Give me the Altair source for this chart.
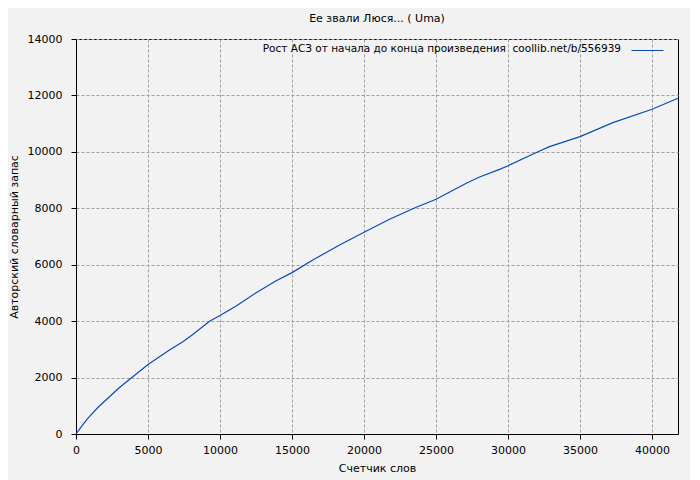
import altair as alt
import pandas as pd

# Data
words = [0, 400, 820, 1500, 2210, 3000, 3945, 5000, 6490, 7417, 8110, 9271,
         10000, 11125, 12510, 13900, 15000, 16445, 18300, 20000, 21770, 23625,
         25000, 27100, 28020, 29410, 30000, 32190, 32880, 35000, 37280, 40000,
         41800]
vocab = [0, 280, 556, 930, 1265, 1640, 2030, 2460, 2977, 3272, 3530, 3995,
         4200, 4540, 5010, 5430, 5720, 6167, 6700, 7150, 7610, 8035,
         8318, 8886, 9110, 9380, 9510, 10031, 10185, 10540, 11035, 11509,
         11900]

x_ticks = [0, 5000, 10000, 15000, 20000, 25000, 30000, 35000, 40000]
y_ticks = [0, 2000, 4000, 6000, 8000, 10000, 12000, 14000]

title_text = "Ее звали Люся... ( Uma)"
legend_label = "Рост АСЗ от начала до конца произведения\u00a0 coollib.net/b/556939"
x_title = "Счетчик слов"
y_title = "Авторский словарный запас"

FONT = "DejaVu Sans"
LINE_COLOR = "#0a4cb3"

df = pd.DataFrame({"words": words, "vocab": vocab})

line = alt.Chart(df).mark_line(color=LINE_COLOR, strokeWidth=1.2).encode(
    x=alt.X("words:Q",
            scale=alt.Scale(domain=[0, 41800], nice=False, zero=True),
            axis=alt.Axis(values=x_ticks, title=x_title, format="d",
                          labelPadding=5, titlePadding=7, labelFlush=False)),
    y=alt.Y("vocab:Q",
            scale=alt.Scale(domain=[0, 14000], nice=False),
            axis=alt.Axis(values=y_ticks, title=y_title, format="d",
                          labelPadding=9, titlePadding=8, labelFlush=False)),
)

legend_df = pd.DataFrame({"label": [legend_label]})
legend_text = alt.Chart(legend_df).mark_text(
    align="right", baseline="middle", font=FONT, fontSize=10.5, color="black"
).encode(text="label:N", x=alt.value(545), y=alt.value(10))

legend_rule = alt.Chart(legend_df).mark_rule(
    color=LINE_COLOR, strokeWidth=1.2
).encode(x=alt.value(555.5), x2=alt.value(587.5), y=alt.value(11.5))

chart = alt.layer(line, legend_text, legend_rule).properties(
    width=602,
    height=395,
    title=alt.TitleParams(title_text, font=FONT, fontSize=11,
                          fontWeight="normal", color="black",
                          anchor="middle", offset=9),
    padding={"left": 68, "top": 31, "right": 12, "bottom": 46},
    autosize=alt.AutoSizeParams(type="none"),
    background="#f2f2f2",
).configure_view(
    stroke="black", strokeWidth=1, fill="#f2f2f2"
).configure_axis(
    labelFont=FONT, labelFontSize=11, labelColor="black",
    titleFont=FONT, titleFontSize=11, titleFontWeight="normal", titleColor="black",
    domainColor="black", domainWidth=1,
    tickColor="black", tickSize=5, tickWidth=1,
    gridColor="#a0a0a0", gridDash=[3, 2], gridWidth=1, gridOpacity=1,
)

chart.save("out.html", embed_options={"renderer": "svg", "actions": False})
